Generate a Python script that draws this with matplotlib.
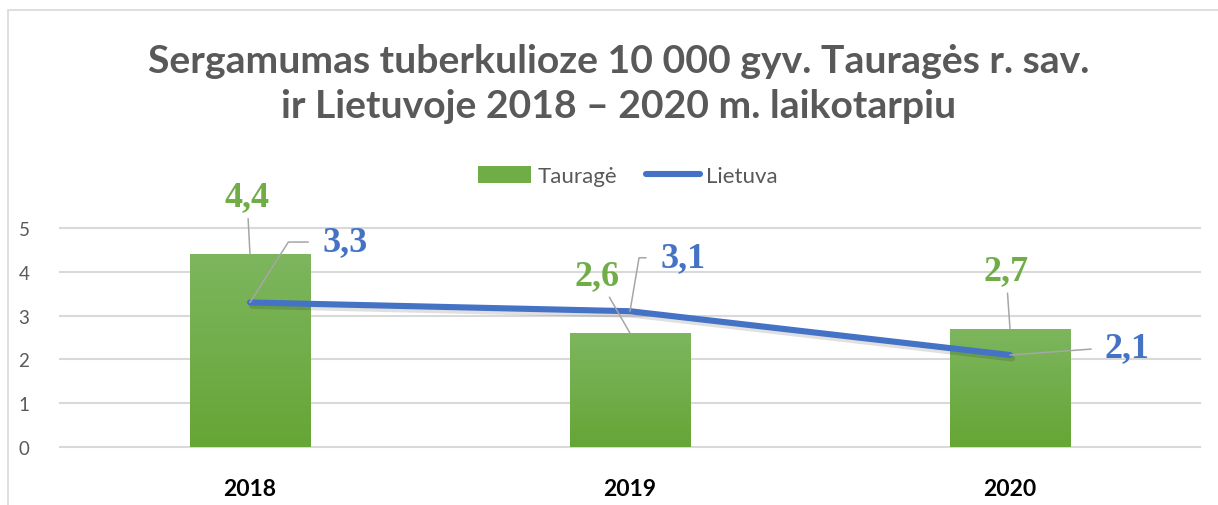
import matplotlib
matplotlib.use("Agg")
import matplotlib.pyplot as plt
import numpy as np
from matplotlib.patches import Patch, Rectangle
from matplotlib.lines import Line2D
from matplotlib.colors import LinearSegmentedColormap
import matplotlib.patheffects as pe

# ---- data ----
years = ["2018", "2019", "2020"]
taurage = [4.4, 2.6, 2.7]
lietuva = [3.3, 3.1, 2.1]
taurage_labels = ["4,4", "2,6", "2,7"]
lietuva_labels = ["3,3", "3,1", "2,1"]
yticks = [0, 1, 2, 3, 4, 5]
title = "Sergamumas tuberkulioze 10 000 gyv. Tauragės r. sav.\nir Lietuvoje 2018 – 2020 m. laikotarpiu"
series_names = ["Tauragė", "Lietuva"]

GREEN = "#70AD47"
BLUE = "#4472C4"
GRAY = "#595959"
GRID = "#D9D9D9"
LEADER = "#A6A6A6"

W, H = 1218, 506
fig = plt.figure(figsize=(W / 100, H / 100), dpi=100)
fig.patch.set_facecolor("white")

# outer chart border
fig.add_artist(Rectangle((8 / W, -0.05), 1.2, (H - 11) / H + 0.05,
                         transform=fig.transFigure, fill=False,
                         edgecolor=GRID, lw=1.2))

ax = fig.add_axes([60 / W, 1 - 448 / H, 1140 / W, (448 - 229) / H])
x = np.arange(len(years))

for s in ax.spines.values():
    s.set_visible(False)
ax.set_yticks(yticks)
ax.yaxis.grid(True, color=GRID, lw=1.5)
ax.set_axisbelow(True)
for gl in ax.get_ygridlines():
    gl.set_clip_on(False)
ax.tick_params(axis="both", length=0)
ax.tick_params(axis="y", pad=22, labelsize=13.5, labelcolor=GRAY)
ax.tick_params(axis="x", pad=22, labelsize=16.5, labelcolor="black")
ax.set_xticks(x)
ax.set_xticklabels(years, fontweight="bold", family="Lato")
for t in ax.get_yticklabels():
    t.set_family("Lato")

bars = ax.bar(x, taurage, width=0.316, color=GREEN, zorder=2)
cmap = LinearSegmentedColormap.from_list("g", ["#66A536", "#7DB65E"])
grad = np.linspace(0, 1, 256).reshape(-1, 1)
for b in bars:
    x0, y0 = b.get_x(), b.get_y()
    im = ax.imshow(grad, cmap=cmap, origin="lower", aspect="auto",
                   extent=[x0, x0 + b.get_width(), y0, y0 + b.get_height()],
                   zorder=2.1)
    im.set_clip_path(b)
ax.set_xlim(-0.5, len(years) - 0.5)
ax.set_ylim(0, 5)

ax.plot(x, lietuva, color=BLUE, lw=4.4, solid_capstyle="round", zorder=3,
        path_effects=[pe.SimpleLineShadow(offset=(1.5, -2.5), alpha=0.12, shadow_color="black"),
                      pe.Normal()])

# data labels
lab_font = dict(family="Liberation Serif", fontweight="bold", fontsize=26)
green_off = [(-2.2, 41.5), (-23.8, 41.5), (-2.9, 41.5)]
for xi, v, lab, off in zip(x, taurage, taurage_labels, green_off):
    ax.annotate(lab, xy=(xi, v), xytext=off, textcoords="offset points",
                ha="center", va="center", color=GREEN, zorder=5,
                arrowprops=dict(arrowstyle="-", color=LEADER, lw=1.1,
                                shrinkA=2, shrinkB=0),
                **lab_font)

blue_off = [(52, 43.5), (21.6, 38.5), (68.4, 5)]
blue_conn = ["angle,angleA=0,angleB=57.6,rad=0",
             "angle,angleA=0,angleB=80.4,rad=0",
             "arc3,rad=0"]
for xi, v, lab, off, cs in zip(x, lietuva, lietuva_labels, blue_off, blue_conn):
    ax.annotate(lab, xy=(xi, v), xytext=off, textcoords="offset points",
                ha="left", va="center", color=BLUE, zorder=5,
                arrowprops=dict(arrowstyle="-", color=LEADER, lw=1.1,
                                shrinkA=8, shrinkB=0, relpos=(0, 0.5),
                                connectionstyle=cs),
                **lab_font)

# legend
handles = [Patch(facecolor=GREEN, edgecolor="none"),
           Line2D([0], [0], color=BLUE, lw=4.4, solid_capstyle="round")]
leg = fig.legend(handles, series_names, loc="center",
                 bbox_to_anchor=(628 / W, 1 - 177 / H), ncol=2, frameon=False,
                 handlelength=2.4, handleheight=0.85, handletextpad=0.3,
                 columnspacing=1.3,
                 prop=dict(family="Lato", size=16))
for t in leg.get_texts():
    t.set_color(GRAY)

fig.text(619 / W, 1 - 84 / H, title, ha="center", va="center",
         family="Lato", fontweight="bold", fontsize=28.2, color=GRAY,
         linespacing=1.33, multialignment="center")

fig.savefig("out.png", dpi=100)
